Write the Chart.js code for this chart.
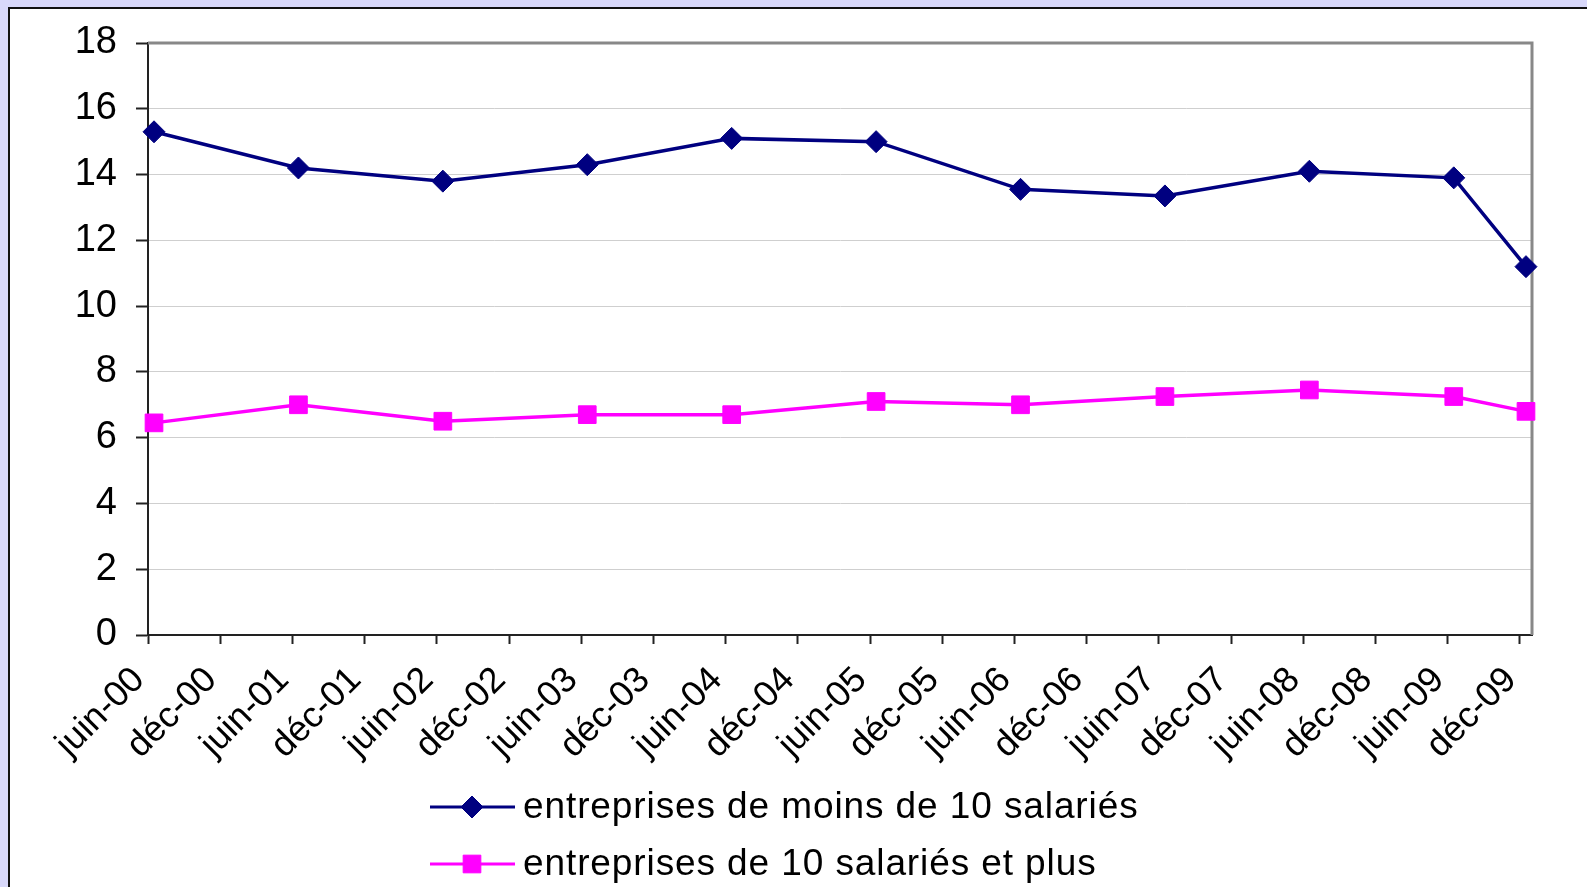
<!DOCTYPE html>
<html>
<head>
<meta charset="utf-8">
<script src="https://cdn.jsdelivr.net/npm/chart.js@4.4.3/dist/chart.umd.min.js"></script>
<style>
  html, body { margin: 0; padding: 0; width: 1587px; height: 887px; overflow: hidden; background: #d8d8fa; }
  #frame { position: absolute; left: 8px; top: 7px; width: 1600px; height: 900px;
           background: #fff; border-left: 2px solid #111; border-top: 2px solid #111; }
  #wrap { position: absolute; left: 0; top: 0; width: 1587px; height: 887px; }
</style>
</head>
<body>
<div id="frame"></div>
<div id="wrap"><canvas id="c" width="1587" height="887"></canvas></div>
<script>
  /* ── Data ─────────────────────────────────────────────────────────── */
  const tickLabels = [
    "juin-00", "déc-00", "juin-01", "déc-01", "juin-02", "déc-02", "juin-03", "déc-03",
    "juin-04", "déc-04", "juin-05", "déc-05", "juin-06", "déc-06", "juin-07", "déc-07",
    "juin-08", "déc-08", "juin-09", "déc-09",
  ];
  // months elapsed since juin-00 for each observation
  const obsMonths = [0, 12, 24, 36, 48, 60, 72, 84, 96, 108, 114];
  const moins10  = [15.3, 14.2, 13.8, 14.3, 15.1, 15.0, 13.55, 13.35, 14.1, 13.9, 11.2];
  const plus10   = [6.45, 7.0, 6.5, 6.7, 6.7, 7.1, 7.0, 7.25, 7.45, 7.25, 6.8];
  const seriesLabels = ["entreprises de moins de 10 salariés", "entreprises de 10 salariés et plus"];
  const yTicks = [0, 2, 4, 6, 8, 10, 12, 14, 16, 18];

  const NAVY = "#000080";
  const MAGENTA = "#ff00ff";
  const FONT = "'Liberation Sans', Arial, sans-serif";

  function pts(vals) {
    // observations sit mid-month on the date axis
    return vals.map((v, i) => ({ x: obsMonths[i] + 0.5, y: v }));
  }

  /* ── Plot frame (grey top/right edge) ──────────────────────────────── */
  const framePlugin = {
    id: "frame",
    beforeDatasetsDraw(chart) {
      const { ctx, chartArea: a } = chart;
      ctx.save();
      ctx.strokeStyle = "#888";
      ctx.lineWidth = 3;
      ctx.beginPath();
      ctx.moveTo(a.left, a.top);
      ctx.lineTo(a.right, a.top);
      ctx.lineTo(a.right, a.bottom);
      ctx.stroke();
      ctx.restore();
    },
  };

  /* ── Stacked legend below the axis ─────────────────────────────────── */
  const legendPlugin = {
    id: "stackLegend",
    afterDraw(chart) {
      const { ctx } = chart;
      const rows = [807, 864];
      ctx.save();
      chart.data.datasets.forEach((ds, i) => {
        const y = rows[i];
        ctx.strokeStyle = ds.borderColor;
        ctx.lineWidth = 3;
        ctx.beginPath();
        ctx.moveTo(430, y);
        ctx.lineTo(515, y);
        ctx.stroke();
        ctx.fillStyle = ds.pointBackgroundColor;
        ctx.strokeStyle = ds.pointBorderColor;
        ctx.lineWidth = 1;
        Chart.helpers.drawPoint(ctx, { pointStyle: ds.pointStyle, radius: ds.pointRadius, borderWidth: 1 }, 472, y);
        ctx.fillStyle = "#000";
        ctx.font = "37px " + FONT;
        ctx.textBaseline = "middle";
        ctx.textAlign = "left";
        ctx.letterSpacing = "0.9px";
        ctx.fillText(ds.label, 523, y + 1);
      });
      ctx.restore();
    },
  };

  new Chart(document.getElementById("c"), {
    type: "line",
    data: {
      datasets: [
        {
          label: seriesLabels[0],
          data: pts(moins10),
          borderColor: NAVY,
          borderWidth: 3.5,
          pointStyle: "rectRot",
          pointRadius: 11,
          pointBackgroundColor: NAVY,
          pointBorderColor: NAVY,
          pointBorderWidth: 1,
          tension: 0,
          clip: false,
        },
        {
          label: seriesLabels[1],
          data: pts(plus10),
          borderColor: MAGENTA,
          borderWidth: 3.5,
          pointStyle: "rect",
          pointRadius: 12.5,
          pointBackgroundColor: MAGENTA,
          pointBorderColor: MAGENTA,
          pointBorderWidth: 1,
          tension: 0,
          clip: false,
        },
      ],
    },
    options: {
      responsive: false,
      animation: false,
      events: [],
      layout: { padding: { left: 0, top: 43, right: 55, bottom: 0 } },
      plugins: { legend: { display: false }, tooltip: { enabled: false } },
      scales: {
        x: {
          type: "linear",
          min: 0,
          max: 115,
          afterBuildTicks(scale) {
            scale.ticks = tickLabels.map((_, i) => ({ value: i * 6 }));
          },
          afterFit(scale) { scale.height = 887 - 635; },
          ticks: {
            autoSkip: false,
            maxRotation: 45,
            minRotation: 45,
            padding: 15,
            labelOffset: -9,
            color: "#000",
            font: { family: FONT, size: 36 },
            callback: (v) => tickLabels[Math.round(v / 6)],
          },
          grid: { drawOnChartArea: false, drawTicks: true, tickLength: 9, tickColor: "#222", tickWidth: 2 },
          border: { display: true, color: "#222", width: 2 },
        },
        y: {
          min: 0,
          max: 18,
          afterBuildTicks(scale) {
            scale.ticks = yTicks.map((v) => ({ value: v }));
          },
          afterFit(scale) { scale.width = 148; },
          ticks: {
            padding: 19,
            color: "#000",
            font: { family: FONT, size: 38 },
          },
          grid: { color: "#cfcfcf", lineWidth: 1, tickLength: 12, tickColor: "#222", tickWidth: 2 },
          border: { display: true, color: "#222", width: 2 },
        },
      },
    },
    plugins: [framePlugin, legendPlugin],
  });
</script>
</body>
</html>
